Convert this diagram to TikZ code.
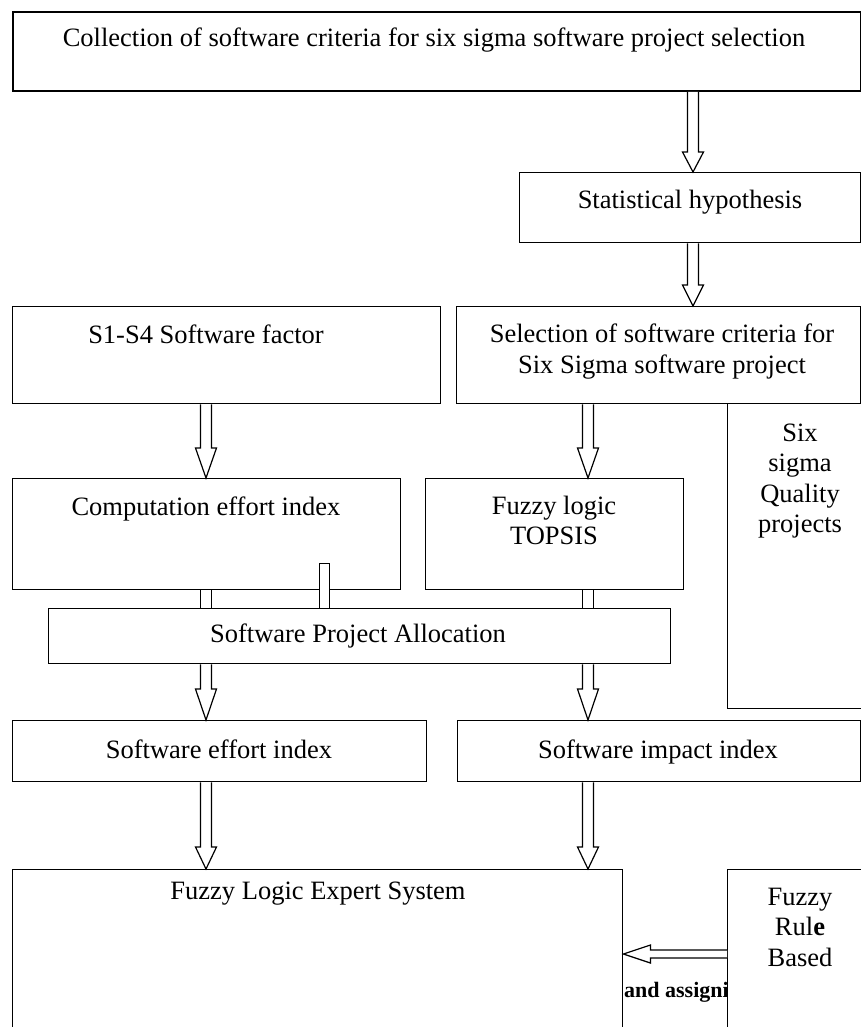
\documentclass[tikz,border=0pt]{standalone}
\usepackage{fontspec}
\setmainfont{Liberation Serif}
\usetikzlibrary{calc}
\newcommand\mybox[6][]{\node[boxst,#1,anchor=north west,minimum width={#5-#3},minimum height={#6-#4}] (#2) at (#3,#4) {};}
% vertical block arrow: x, from anchor, to anchor, head length
\newcommand\varr[4]{%
  \filldraw[arrst] let \p1=(#2), \p2=(#3) in
  ({#1pt-5.5pt},\y1) -- ({#1pt-5.5pt},{\y2+#4pt}) -- ({#1pt-10.5pt},{\y2+#4pt}) --
  (#1pt,\y2) -- ({#1pt+10.5pt},{\y2+#4pt}) -- ({#1pt+5.5pt},{\y2+#4pt}) -- ({#1pt+5.5pt},\y1);}
% vertical shaft only
\newcommand\vshaft[3]{%
  \draw[arrst] let \p1=(#2), \p2=(#3) in
  ({#1pt-5.5pt},\y1) -- ({#1pt-5.5pt},\y2) ({#1pt+5.5pt},\y1) -- ({#1pt+5.5pt},\y2);}
\tikzset{
  boxst/.style={draw, line width=1.4pt, inner sep=0pt},
  arrst/.style={draw, fill=white, line width=1.2pt, line join=miter},
  tx/.style={font=\fontsize{26.5}{30.5}\selectfont, inner sep=0pt, align=center},
}
\begin{document}
\begin{tikzpicture}[x=1pt,y=-1pt]
\useasboundingbox (0,0) rectangle (861,1027);
\clip (0,0) rectangle (861,1027);
% boxes
\mybox[line width=2pt]{top}{12}{11}{860}{90}
\mybox{stat}{519}{172}{860}{242}
\mybox{s1}{12}{306}{440}{403}
\mybox{sel}{456}{306}{860}{403}
\mybox{six}{727}{403}{880}{708}
\mybox{comp}{12}{478}{400}{589}
\mybox{topsis}{425}{478}{683}{589}
\mybox{alloc}{48}{608}{670}{663}
\mybox{eff}{12}{720}{426}{781}
\mybox{imp}{457}{720}{860}{781}
\mybox{fles}{12}{869}{622}{1045}
\mybox{frb}{727}{869}{880}{1045}
\node[draw, fill=white, line width=1.2pt, inner sep=0pt, minimum width=10, minimum height=45, anchor=north west] (stub) at (319,563) {};
% texts
\node[tx, anchor=base] (topT) at (434,47) {Collection of software criteria for six sigma software project selection};
\node[tx, anchor=base] (statT) at (690,208) {Statistical hypothesis};
\node[tx, anchor=base] (s1T) at (206,343) {S1-S4 Software factor};
\node[tx] (selT) at (662,351.65) {\strut Selection of software criteria for\\\strut Six Sigma software project};
\node[tx] (sixT) at (800,480.65) {\strut Six\\\strut sigma\\\strut Quality\\\strut projects};
\node[tx, anchor=base] (compT) at (206,515) {Computation effort index};
\node[tx] (topsisT) at (554,523.15) {\strut Fuzzy logic\\\strut TOPSIS};
\node[tx, anchor=base] (allocT) at (358,642) {Software Project Allocation};
\node[tx, anchor=base] (effT) at (219,758) {Software effort index};
\node[tx, anchor=base] (impT) at (658,758) {Software impact index};
\node[tx, anchor=base] (flesT) at (318,899) {Fuzzy Logic Expert System};
\node[tx] (frbT) at (800,929.4) {\strut Fuzzy\\\strut Rul{\bfseries e}\\\strut Based};
\begin{scope}
  \clip (623,960) rectangle (726.3,1027);
  \node[font=\fontsize{22}{26}\selectfont\bfseries, inner sep=0pt, anchor=base west] (andT) at (624,997) {and assigni};
\end{scope}
% arrows
\varr{693}{top.south}{stat.north}{20}
\varr{693}{stat.south}{sel.north}{21}
\varr{206}{s1.south}{comp.north}{30}
\varr{588}{sel.south}{topsis.north}{30}
\vshaft{206}{comp.south}{alloc.north}
\vshaft{588}{topsis.south}{alloc.north}
\varr{206}{alloc.south}{eff.north}{31}
\varr{588}{alloc.south}{imp.north}{31}
\varr{206}{eff.south}{fles.north}{22}
\varr{588}{imp.south}{fles.north}{22}
\filldraw[arrst] let \p1=(frb.west), \p2=(fles.east) in
  (\x1,-950pt) -- ({\x2+27pt},-950pt) -- ({\x2+27pt},-945pt) -- (\x2,-954pt) --
  ({\x2+27pt},-963pt) -- ({\x2+27pt},-958pt) -- (\x1,-958pt);
\end{tikzpicture}
\end{document}
